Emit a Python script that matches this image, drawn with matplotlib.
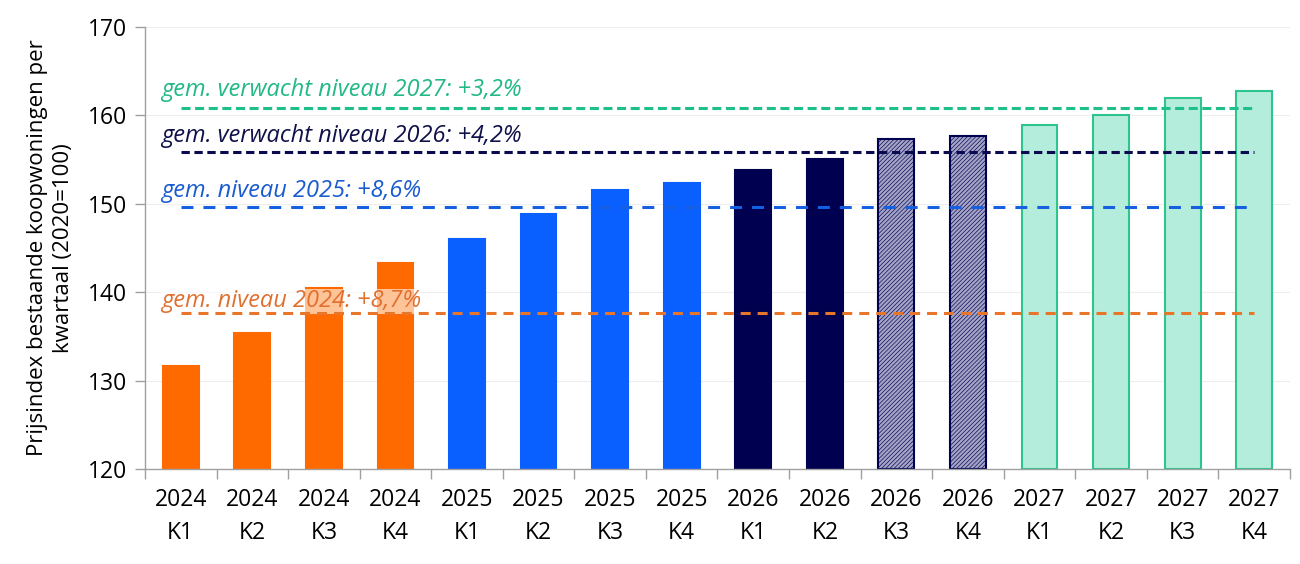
import numpy as np
import matplotlib.pyplot as plt

plt.rcParams['font.family'] = ['Open Sans', 'DejaVu Sans']
plt.rcParams['hatch.linewidth'] = 0.45
plt.rcParams['lines.scale_dashes'] = False

# data
years = ['2024'] * 4 + ['2025'] * 4 + ['2026'] * 4 + ['2027'] * 4
quarters = ['K1', 'K2', 'K3', 'K4'] * 4
values = [131.6, 135.4, 140.5, 143.3,
          146.0, 148.9, 151.6, 152.4,
          153.8, 155.1, 157.3, 157.7,
          158.9, 160.1, 162.0, 162.8]

avg_labels = ['gem. niveau 2024: +8,7%', 'gem. niveau 2025: +8,6%',
              'gem. verwacht niveau 2026: +4,2%', 'gem. verwacht niveau 2027: +3,2%']
avg_levels = [137.7, 149.7, 155.9, 160.9]
label_y = [138.3, 150.8, 157.0, 162.2]

orange = '#FF6A00'
blue = '#0A5FFF'
navy = '#000050'
green_edge = '#2EC48E'
green_fill = '#B5EDDC'

face = [orange] * 4 + [blue] * 4 + [navy] * 2 + ['#A4A4C6'] * 2 + [green_fill] * 4
edge = [orange] * 4 + [blue] * 4 + [navy] * 4 + [green_edge] * 4
hatch = [None] * 10 + ['////////'] * 2 + [None] * 4

line_cols = ['#E8762A', '#1560E0', '#0A0A50', '#1DBF8A']
text_cols = ['#E07030', '#1A5CD0', '#10104A', '#22B888']
dash_pat = [(7.2, 5.0), (8.6, 7.2), (6.0, 3.3), (6.5, 3.3)]

fig = plt.figure(figsize=(13, 5.64), dpi=100)
ax = fig.add_axes([0.1115, 0.1684, 0.8808, 0.7836])

x = np.arange(len(values))
for i in x:
    ax.bar(i, values[i] - 120, bottom=120, width=0.5, color=face[i],
           edgecolor=edge[i], linewidth=1.5, hatch=hatch[i], zorder=2)

# average level lines with their labels
for lvl, lab, ly, lc, tc, dp in zip(avg_levels, avg_labels, label_y, line_cols, text_cols, dash_pat):
    ax.plot([0, 15], [lvl, lvl], color=lc, lw=2.2, dashes=dp, zorder=5)
    t = ax.text(-0.28, ly, lab, color=tc, fontsize=17, style='italic',
                va='baseline', ha='left', zorder=4)
    if '2024' in lab:
        t.set_bbox(dict(facecolor='white', alpha=0.6, edgecolor='none', pad=0.5))

ax.set_xlim(-0.5, 15.5)
ax.set_ylim(120, 170)
ax.set_yticks(np.arange(120, 171, 10))
ax.yaxis.grid(True, color='#EEEEEE', lw=0.8, zorder=0)
ax.set_axisbelow(True)

ax.set_xticks(x)
ax.set_xticklabels([f'{y}\n{q}' for y, q in zip(years, quarters)], linespacing=1.5)
ax.set_xticks(np.arange(-0.5, 16, 1), minor=True)
ax.tick_params(axis='x', which='major', length=0, pad=14, labelsize=16.5)
ax.tick_params(axis='x', which='minor', length=7, color='#A0A0A0', width=1)
ax.tick_params(axis='y', length=7, color='#A0A0A0', width=1, labelsize=16.5, pad=6)

for s in ['top', 'right']:
    ax.spines[s].set_visible(False)
for s in ['left', 'bottom']:
    ax.spines[s].set_color('#A0A0A0')
    ax.spines[s].set_linewidth(1)

ax.set_ylabel('Prijsindex bestaande koopwoningen per\nkwartaal (2020=100)',
              fontsize=16, labelpad=10, linespacing=1.3)

fig.savefig('out.png', dpi=100)
